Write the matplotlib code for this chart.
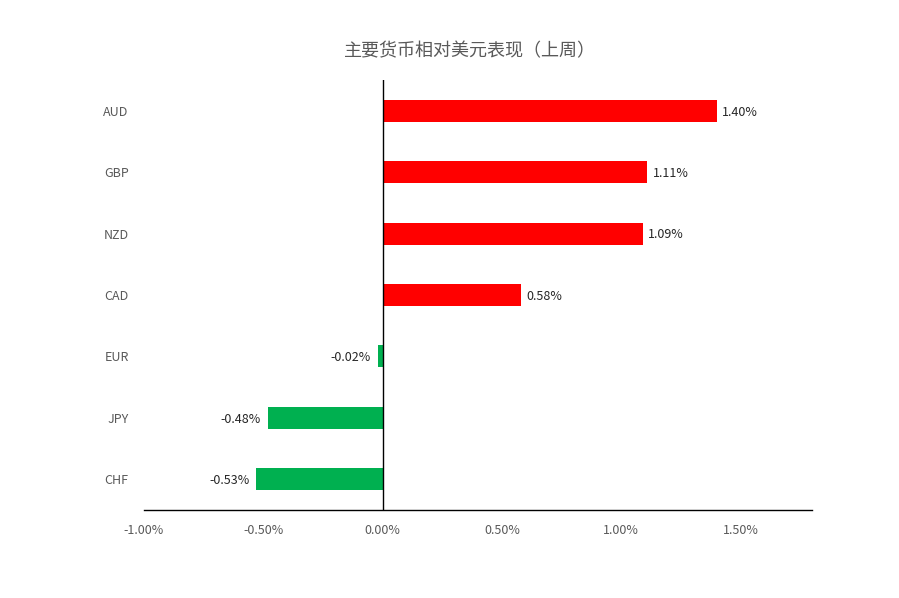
import matplotlib.pyplot as plt
from matplotlib.ticker import FuncFormatter

# --- Data ---
currencies = ["AUD", "GBP", "NZD", "CAD", "EUR", "JPY", "CHF"]
changes = [1.40, 1.11, 1.09, 0.58, -0.02, -0.48, -0.53]  # percent vs USD, last week
x_ticks = [-1.0, -0.5, 0.0, 0.5, 1.0, 1.5]

TITLE = "主要货币相对美元表现（上周）"
RED = "#FF0000"
GREEN = "#00B050"
GRAY = "#595959"

plt.rcParams['font.family'] = ['Noto Sans CJK SC', 'DejaVu Sans']

fig = plt.figure(figsize=(8.99, 5.98), dpi=100)
ax = fig.add_axes([0.1602, 0.1472, 0.7430, 0.7190])

ypos = list(range(len(currencies)))[::-1]
colors = [RED if v >= 0 else GREEN for v in changes]
ax.barh(ypos, changes, height=0.36, color=colors, zorder=2)

# data labels
for y, v in zip(ypos, changes):
    if v >= 0:
        ax.annotate(f"{v:.2f}%", (v, y), xytext=(4, -1), textcoords="offset points",
                    ha="left", va="center", fontsize=9, color="#262626")
    else:
        ax.annotate(f"{v:.2f}%", (v, y), xytext=(-5, -1), textcoords="offset points",
                    ha="right", va="center", fontsize=9, color="#262626")

ax.set_xlim(-1.0, 1.8)
ax.set_ylim(-0.5, len(currencies) - 0.5)
ax.set_xticks(x_ticks)
ax.xaxis.set_major_formatter(FuncFormatter(lambda v, _: f"{v:.2f}%"))
ax.set_yticks(ypos)
ax.set_yticklabels(currencies)

ax.tick_params(axis="x", length=0, pad=10, labelsize=9, labelcolor=GRAY)
ax.tick_params(axis="y", length=0, pad=11, labelsize=9, labelcolor=GRAY)

for side in ["top", "right", "left"]:
    ax.spines[side].set_visible(False)
ax.spines["bottom"].set_color("black")
ax.spines["bottom"].set_linewidth(1.0)
ax.axvline(0, color="black", linewidth=1.0, zorder=3)

fig.text(0.523, 0.915, TITLE, ha="center", va="center", fontsize=13, color=GRAY)

fig.savefig("out.png", dpi=100, facecolor="white")
